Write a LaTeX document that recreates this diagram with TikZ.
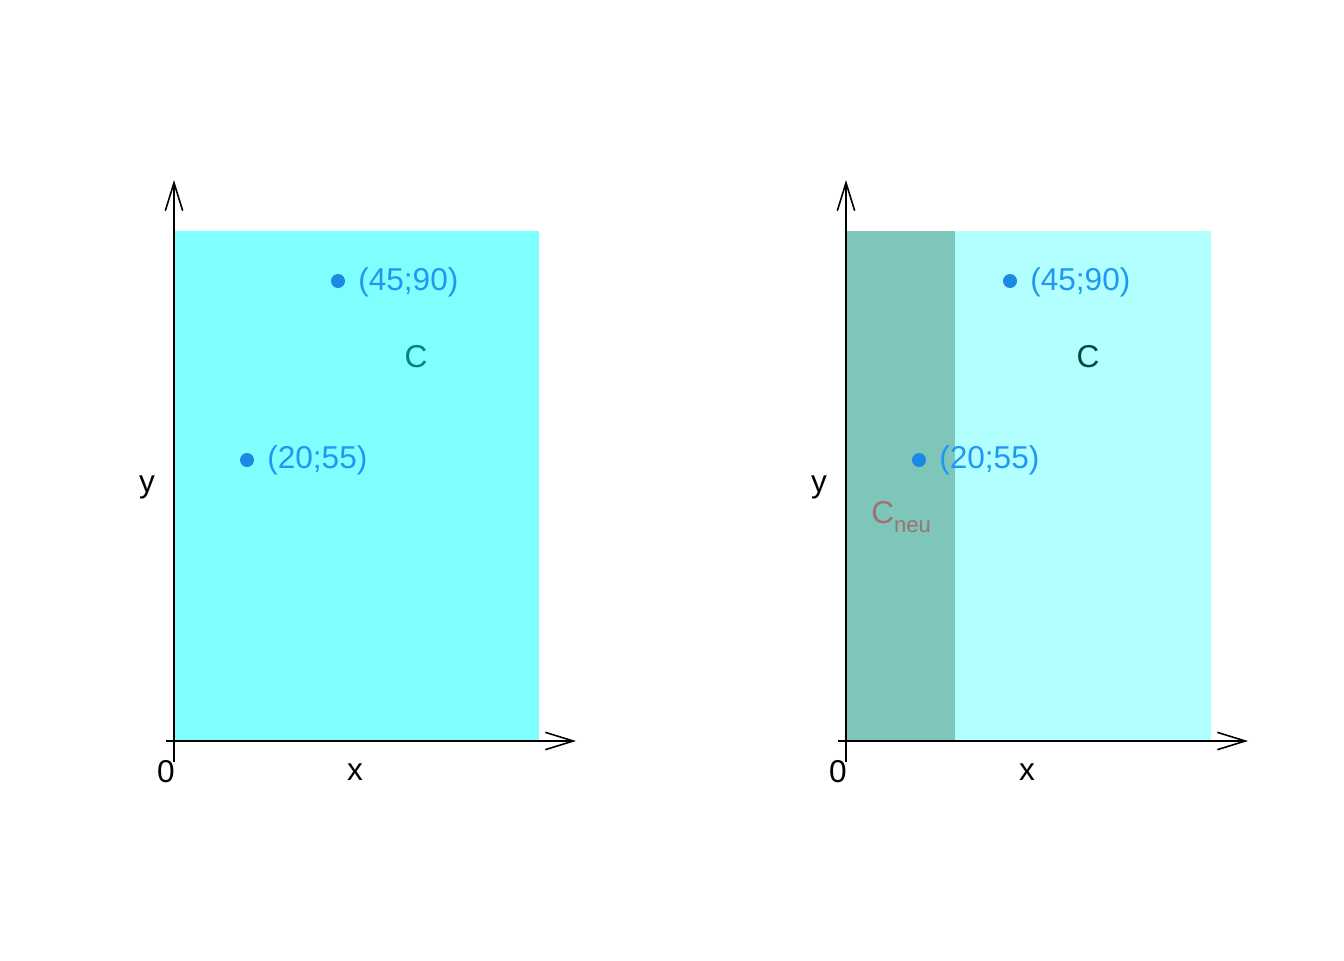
\documentclass[tikz,border=0pt]{standalone}
\usepackage{fontspec}
\setmainfont{Liberation Sans}
\usetikzlibrary{arrows.meta}
\definecolor{fillC}{HTML}{80FFFF}
\definecolor{fillCl}{HTML}{B2FFFF}
\definecolor{fillNeu}{HTML}{7DC6B9}
\definecolor{dotblue}{HTML}{1E88E5}
\definecolor{labblue}{HTML}{2196F3}
\definecolor{cteal}{HTML}{00857F}
\definecolor{cdark}{HTML}{05483F}
\definecolor{cneu}{HTML}{9E7272}
\tikzset{
  axis/.style={line width=1.2pt,-{Straight Barb[length=21pt,width=13pt,line width=1.2pt]}},
  lab/.style={inner sep=0pt,font=\fontsize{23.7}{28}\selectfont},
  pt/.style={circle,fill=dotblue,inner sep=0pt,minimum size=10.5pt}
}
\newcommand{\neusub}[1]{{\fontsize{16.6}{20}\selectfont\raisebox{-0.42em}{#1}}}
\begin{document}
\begin{tikzpicture}[x=0.75pt,y=-0.75pt]
\useasboundingbox (0,0) rectangle (1344,960);
% left panel
\fill[fillC] (174,231) rectangle (539,741);
\draw[axis] (166,741) -- (576,741);
\draw[axis] (174,762) -- (174,180);
\node[lab] (zeroL) at (166,772) {0};
\node[lab] (xL) at (355,772) {x};
\node[lab] (yL) at (147,487) {y};
\node[pt] (pA) at (338,281) {};
\node[pt] (pB) at (247,460) {};
\node[lab,text=labblue,anchor=west] (lA) at (358,282) {(45;90)};
\node[lab,text=labblue,anchor=west] (lB) at (267,460) {(20;55)};
\node[lab,text=cteal] (cL) at (416,357) {C};
% right panel
\fill[fillCl] (846,231) rectangle (1211,741);
\fill[fillNeu] (846,231) rectangle (955,741);
\draw[axis] (838,741) -- (1248,741);
\draw[axis] (846,762) -- (846,180);
\node[lab] (zeroR) at (838,772) {0};
\node[lab] (xR) at (1027,772) {x};
\node[lab] (yR) at (819,487) {y};
\node[pt] (qA) at (1010,281) {};
\node[pt] (qB) at (919,460) {};
\node[lab,text=labblue,anchor=west] (mA) at (1030,282) {(45;90)};
\node[lab,text=labblue,anchor=west] (mB) at (939,460) {(20;55)};
\node[lab,text=cdark] (cR) at (1088,357) {C};
\node[lab,text=cneu,anchor=base west] (cN) at (871,523) {C\neusub{neu}};
\end{tikzpicture}
\end{document}
